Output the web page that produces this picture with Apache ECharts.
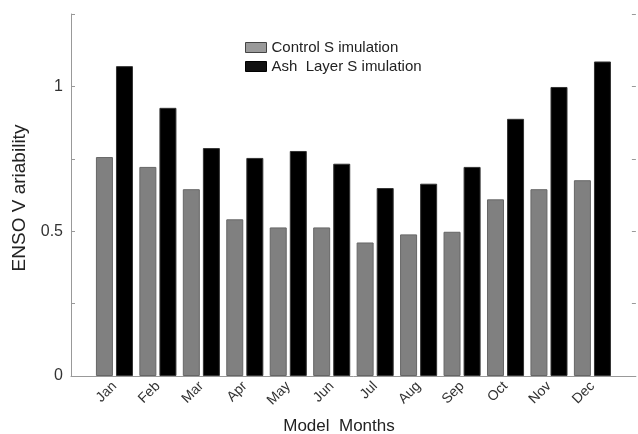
<!DOCTYPE html>
<html>
<head>
<meta charset="utf-8">
<script src="https://cdn.jsdelivr.net/npm/echarts@6/dist/echarts.min.js"></script>
<style>html,body{margin:0;padding:0;background:#fff;}#c{width:638px;height:434px;}</style>
</head>
<body>
<div id="c"></div>
<script>
const months = ['Jan','Feb','Mar','Apr','May','Jun','Jul','Aug','Sep','Oct','Nov','Dec'];
const controlSim = [0.756,0.722,0.645,0.541,0.513,0.513,0.461,0.489,0.498,0.610,0.645,0.676];
const ashSim = [1.07,0.926,0.787,0.753,0.777,0.733,0.649,0.664,0.722,0.888,0.998,1.086];
const yTickLabels = {0:'0', 0.5:'0.5', 1:'1'};

const cats = [''].concat(months, ['']);
const pad = a => [null].concat(a, [null]);
const font = 'Liberation Sans, Arial, sans-serif';

const chart = echarts.init(document.getElementById('c'));
chart.setOption({
  animation: false,
  textStyle: {fontFamily: font},
  grid: {left: 71, right: -2, top: 14, bottom: 58, containLabel: false},
  title: {
    text: 'Model  Months', left: 334, top: 413, textAlign: 'center',
    textStyle: {fontFamily: font, fontSize: 17, fontWeight: 'normal', color: '#222'}
  },
  legend: {
    orient: 'vertical', left: 240, top: 35, itemWidth: 21, itemHeight: 10, itemGap: 4,
    icon: 'rect',
    textStyle: {fontFamily: font, fontSize: 15, color: '#222'},
    data: [
      {name: 'Control S imulation', itemStyle: {color: '#9a9a9a', borderColor: '#444', borderWidth: 1}},
      {name: 'Ash  Layer S imulation', itemStyle: {color: '#111', borderColor: '#000', borderWidth: 1}}
    ]
  },
  xAxis: {
    type: 'category', data: cats, boundaryGap: false,
    axisLine: {lineStyle: {color: '#999', width: 1}},
    axisTick: {show: false},
    axisLabel: {rotate: 45, fontSize: 14, color: '#333', fontFamily: font, margin: 8, interval: 0}
  },
  yAxis: [{
    type: 'value', min: 0, max: 1.25, interval: 0.25,
    name: 'ENSO V ariability', nameLocation: 'middle', nameGap: 42,
    nameTextStyle: {fontSize: 19, color: '#222', fontFamily: font, padding: [0, 0, 0, -6]},
    axisLine: {show: true, lineStyle: {color: '#999'}},
    axisTick: {show: true, inside: true, length: 4, lineStyle: {color: '#999'}},
    splitLine: {show: false},
    axisLabel: {fontSize: 16, color: '#333', fontFamily: font, margin: 8,
      formatter: v => (yTickLabels[v] !== undefined ? yTickLabels[v] : '')}
  }, {
    type: 'value', min: 0, max: 1.25, interval: 0.25, position: 'right',
    axisLine: {show: false},
    axisTick: {show: true, inside: true, length: 4, lineStyle: {color: '#999'}},
    axisLabel: {show: false}, splitLine: {show: false}
  }],
  series: [{
    name: 'Control S imulation', type: 'bar', data: pad(controlSim),
    barWidth: 17, barGap: '18%',
    itemStyle: {color: '#808080', borderColor: '#666', borderWidth: 1}
  }, {
    name: 'Ash  Layer S imulation', type: 'bar', data: pad(ashSim),
    barWidth: 17, barGap: '18%',
    itemStyle: {color: '#000', borderColor: '#333', borderWidth: 1}
  }]
});
</script>
</body>
</html>
